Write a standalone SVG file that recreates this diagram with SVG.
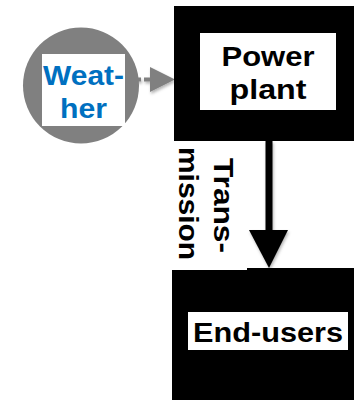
<svg xmlns="http://www.w3.org/2000/svg" width="354" height="401" viewBox="0 0 354 401">
  <defs>
    <filter id="shade" x="-30%" y="-30%" width="160%" height="160%">
      <feDropShadow dx="1" dy="2" stdDeviation="1.5" flood-color="#000" flood-opacity="0.3"/>
    </filter>
  </defs>
  <style>
    .lbl { font-family: "Liberation Sans", Arial, sans-serif; font-weight: bold; font-size: 28px; text-anchor: middle; }
    .dark { fill: #000; }
    .blue { fill: #0070C0; }
    .box { fill: #000; }
    .pane { fill: #fff; }
  </style>
  <rect width="354" height="401" fill="#fff"/>

  <!-- connectors -->
  <g id="connectors">
    <g id="weather-to-plant" filter="url(#shade)">
      <line x1="126" y1="79.5" x2="151" y2="79.5" stroke="#808080" stroke-width="4" stroke-dasharray="6 3"/>
      <polygon points="150,67 175,79.5 150,92" fill="#808080"/>
    </g>
    <g id="transmission" filter="url(#shade)">
      <line x1="269" y1="141" x2="269" y2="234" stroke="#000" stroke-width="7"/>
      <polygon points="249,230 288,230 269,268" fill="#000"/>
    </g>
  </g>

  <!-- weather -->
  <g id="weather">
    <circle cx="81" cy="85.5" r="58" fill="#808080"/>
    <rect class="pane" x="42" y="54" width="83" height="72"/>
    <text class="lbl blue" x="83.5" y="85" font-size="30" textLength="81" lengthAdjust="spacingAndGlyphs">Weat-</text>
    <text class="lbl blue" x="83.5" y="118" font-size="30" textLength="47" lengthAdjust="spacingAndGlyphs">her</text>
  </g>

  <!-- power plant -->
  <g id="power-plant">
    <rect class="box" x="174" y="6" width="180" height="135"/>
    <rect class="pane" x="200" y="33" width="136" height="77"/>
    <text class="lbl dark" x="268" y="66" font-size="30" textLength="93" lengthAdjust="spacingAndGlyphs">Power</text>
    <text class="lbl dark" x="268" y="99" font-size="30" textLength="77" lengthAdjust="spacingAndGlyphs">plant</text>
  </g>

  <!-- end users -->
  <g id="end-users">
    <rect class="box" x="172" y="268" width="182" height="132"/>
    <rect class="pane" x="188" y="312" width="160" height="38"/>
    <text class="lbl dark" x="268" y="342" font-size="29" textLength="150" lengthAdjust="spacingAndGlyphs">End-users</text>
  </g>

  <!-- transmission label, running down beside the arrow -->
  <g id="transmission-label">
    <rect class="pane" x="172" y="141" width="75" height="129"/>
    <g transform="rotate(90)">
      <text class="lbl dark" x="205.5" y="-214" textLength="95" lengthAdjust="spacingAndGlyphs">Trans-</text>
      <text class="lbl dark" x="203.5" y="-179" textLength="113" lengthAdjust="spacingAndGlyphs">mission</text>
    </g>
  </g>
</svg>
